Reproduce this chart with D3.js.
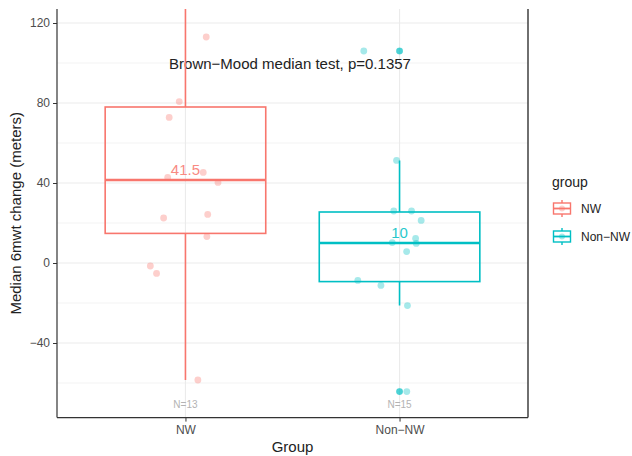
<!DOCTYPE html>
<html>
<head>
<meta charset="utf-8">
<script src="https://cdn.jsdelivr.net/npm/d3@7"></script>
<style>
  body { margin: 0; background: #fff; }
  text { font-family: "Liberation Sans", Arial, sans-serif; }
</style>
</head>
<body>
<div id="chart"></div>
<script>

// groups and box statistics
var groups = ["NW", "Non-NW"];
var groupLabels = ["NW", "Non\u2212NW"];
var colors = ["#F8766D", "#00BFC4"];
var q1 = [14.8, -9.3];
var medians = [41.5, 10];
var q3 = [78, 25.5];
var whiskerLo = [-58.5, -21.3];
var whiskerHi = [140, 51.3];
var counts = [13, 15];

// jittered points: value and horizontal jitter (in category units)
var nwValues = [140, 113, 80.7, 72.8, 45.3, 42.8, 40.3, 24.3, 22.5, 13.2, -1.5, -5.2, -58.5];
var nwJitter = [0.02, 0.097, -0.029, -0.076, 0.083, -0.083, 0.152, 0.104, -0.102, 0.1, -0.164, -0.135, 0.058];
var nonValues = [106, 106, 51.3, 26, 26, 21.3, 12.3, 10.2, 9.8, 5.7, -8.7, -11.2, -21.3, -64.3, -64.3];
var nonJitter = [-0.167, 0, -0.014, -0.027, 0.056, 0.101, 0.075, -0.034, 0.078, 0.033, -0.195, -0.087, 0.037, 0, 0.034];

// boxplot outliers (Non-NW only)
var outlierGroup = ["Non-NW", "Non-NW"];
var outlierValues = [106, -64.3];

var yTicks = [-40, 0, 40, 80, 120];
var yMinor = [-60, -20, 20, 60, 100];
var testLabel = "Brown\u2212Mood median test, p=0.1357";

var width = 632, height = 456;
var panel = { left: 57, right: 528, top: 9, bottom: 417.6 };

var svg = d3.select("#chart").append("svg")
  .attr("width", width)
  .attr("height", height);

var x = d3.scalePoint()
  .domain(groups)
  .range([panel.left, panel.right])
  .padding(0.6);

var step = x.step();

var y = d3.scaleLinear()
  .domain([-77.3, 127])
  .range([panel.bottom, panel.top]);

svg.append("defs").append("clipPath")
  .attr("id", "clip")
  .append("rect")
  .attr("x", panel.left)
  .attr("y", panel.top)
  .attr("width", panel.right - panel.left)
  .attr("height", panel.bottom - panel.top);

var plot = svg.append("g").attr("clip-path", "url(#clip)");

// grid
plot.selectAll(".minor")
  .data(yMinor).enter()
  .append("line")
  .attr("x1", panel.left).attr("x2", panel.right)
  .attr("y1", function (d) { return y(d); })
  .attr("y2", function (d) { return y(d); })
  .attr("stroke", "#ebebeb")
  .attr("stroke-width", 0.6);

plot.selectAll(".major")
  .data(yTicks).enter()
  .append("line")
  .attr("x1", panel.left).attr("x2", panel.right)
  .attr("y1", function (d) { return y(d); })
  .attr("y2", function (d) { return y(d); })
  .attr("stroke", "#ebebeb")
  .attr("stroke-width", 1.1);

plot.selectAll(".vgrid")
  .data(groups).enter()
  .append("line")
  .attr("x1", function (d) { return x(d); })
  .attr("x2", function (d) { return x(d); })
  .attr("y1", panel.top).attr("y2", panel.bottom)
  .attr("stroke", "#ebebeb")
  .attr("stroke-width", 1.1);

// annotation (under the boxes)
plot.append("text")
  .attr("x", 290)
  .attr("y", 68.5)
  .attr("text-anchor", "middle")
  .attr("font-size", 15)
  .attr("fill", "#222")
  .text(testLabel);

// boxes
var boxW = 0.75 * step;
var boxes = plot.selectAll(".box")
  .data(groups).enter()
  .append("g");

boxes.append("line")
  .attr("x1", function (d) { return x(d); })
  .attr("x2", function (d) { return x(d); })
  .attr("y1", function (d, i) { return y(q3[i]); })
  .attr("y2", function (d, i) { return y(whiskerHi[i]); })
  .attr("stroke", function (d, i) { return colors[i]; })
  .attr("stroke-width", 1.6);

boxes.append("line")
  .attr("x1", function (d) { return x(d); })
  .attr("x2", function (d) { return x(d); })
  .attr("y1", function (d, i) { return y(q1[i]); })
  .attr("y2", function (d, i) { return y(whiskerLo[i]); })
  .attr("stroke", function (d, i) { return colors[i]; })
  .attr("stroke-width", 1.6);

boxes.append("rect")
  .attr("x", function (d) { return x(d) - boxW / 2; })
  .attr("width", boxW)
  .attr("y", function (d, i) { return y(q3[i]); })
  .attr("height", function (d, i) { return y(q1[i]) - y(q3[i]); })
  .attr("fill", "none")
  .attr("stroke", function (d, i) { return colors[i]; })
  .attr("stroke-width", 1.6);

boxes.append("line")
  .attr("x1", function (d) { return x(d) - boxW / 2; })
  .attr("x2", function (d) { return x(d) + boxW / 2; })
  .attr("y1", function (d, i) { return y(medians[i]); })
  .attr("y2", function (d, i) { return y(medians[i]); })
  .attr("stroke", function (d, i) { return colors[i]; })
  .attr("stroke-width", 2.6);

// outliers
plot.selectAll(".outlier")
  .data(outlierValues).enter()
  .append("circle")
  .attr("cx", function (d, i) { return x(outlierGroup[i]); })
  .attr("cy", function (d) { return y(d); })
  .attr("r", 3.3)
  .attr("fill", colors[1])
  .attr("opacity", 0.55);

// jittered points
function drawPoints(g, values, jitter, color) {
  plot.selectAll(".pt-" + g)
    .data(values).enter()
    .append("circle")
    .attr("cx", function (d, i) { return x(g) + jitter[i] * step; })
    .attr("cy", function (d) { return y(d); })
    .attr("r", 3.4)
    .attr("fill", color)
    .attr("opacity", 0.35);
}
drawPoints("NW", nwValues, nwJitter, colors[0]);
drawPoints("Non-NW", nonValues, nonJitter, colors[1]);

// median labels
plot.selectAll(".medlab")
  .data(groups).enter()
  .append("text")
  .attr("x", function (d) { return x(d); })
  .attr("y", function (d, i) { return y(medians[i]) - 5; })
  .attr("text-anchor", "middle")
  .attr("font-size", 15)
  .attr("fill", function (d, i) { return colors[i]; })
  .attr("opacity", 0.85)
  .text(function (d, i) { return medians[i]; });

// N labels
plot.selectAll(".nlab")
  .data(groups).enter()
  .append("text")
  .attr("x", function (d) { return x(d); })
  .attr("y", 407.5)
  .attr("text-anchor", "middle")
  .attr("font-size", 10)
  .attr("fill", "#b3b3b3")
  .text(function (d, i) { return "N=" + counts[i]; });

// axes
var yAxis = d3.axisLeft(y).tickValues(yTicks).tickSize(4).tickPadding(3);
var gy = svg.append("g")
  .attr("transform", "translate(" + panel.left + ",0)")
  .call(yAxis);
gy.select(".domain").remove();
gy.selectAll(".tick line").attr("stroke", "#333");
gy.selectAll(".tick text")
  .attr("fill", "#4d4d4d")
  .attr("font-size", 12)
  .style("font-family", "Liberation Sans, Arial, sans-serif")
  .text(function (d) { return d < 0 ? "\u2212" + Math.abs(d) : d; });

var xAxis = d3.axisBottom(x).tickSize(4).tickPadding(4)
  .tickFormat(function (d, i) { return groupLabels[i]; });
var gx = svg.append("g")
  .attr("transform", "translate(0," + panel.bottom + ")")
  .call(xAxis);
gx.select(".domain").remove();
gx.selectAll(".tick line").attr("stroke", "#333");
gx.selectAll(".tick text")
  .attr("fill", "#4d4d4d")
  .attr("font-size", 12)
  .style("font-family", "Liberation Sans, Arial, sans-serif");

// axis lines and right border
svg.append("line")
  .attr("x1", panel.left).attr("x2", panel.left)
  .attr("y1", panel.top).attr("y2", panel.bottom)
  .attr("stroke", "#333").attr("stroke-width", 1.2);
svg.append("line")
  .attr("x1", panel.left).attr("x2", panel.right)
  .attr("y1", panel.bottom).attr("y2", panel.bottom)
  .attr("stroke", "#333").attr("stroke-width", 1.4);
svg.append("line")
  .attr("x1", panel.right).attr("x2", panel.right)
  .attr("y1", panel.top).attr("y2", panel.bottom)
  .attr("stroke", "#333").attr("stroke-width", 1.4);

// axis titles
svg.append("text")
  .attr("transform", "translate(21," + ((panel.top + panel.bottom) / 2) + ") rotate(-90)")
  .attr("text-anchor", "middle")
  .attr("font-size", 15)
  .attr("fill", "#222")
  .text("Median 6mwt change (meters)");

svg.append("text")
  .attr("x", (panel.left + panel.right) / 2)
  .attr("y", 452)
  .attr("text-anchor", "middle")
  .attr("font-size", 15)
  .attr("fill", "#222")
  .text("Group");

// legend
var legend = svg.append("g").attr("transform", "translate(552,0)");
legend.append("text")
  .attr("x", 0).attr("y", 187)
  .attr("font-size", 14)
  .attr("fill", "#222")
  .text("group");

var keys = legend.selectAll(".key")
  .data(groups).enter()
  .append("g")
  .attr("transform", function (d, i) { return "translate(0," + (200 + i * 28) + ")"; });

keys.append("line")
  .attr("x1", 10).attr("x2", 10)
  .attr("y1", 0).attr("y2", 17)
  .attr("stroke", function (d, i) { return colors[i]; })
  .attr("stroke-width", 1.4);
keys.append("rect")
  .attr("x", 1.5).attr("y", 3)
  .attr("width", 17).attr("height", 11)
  .attr("fill", "#fff")
  .attr("stroke", function (d, i) { return colors[i]; })
  .attr("stroke-width", 1.4);
keys.append("circle")
  .attr("cx", 10).attr("cy", 8.5)
  .attr("r", 3)
  .attr("fill", function (d, i) { return colors[i]; })
  .attr("opacity", 0.35);
keys.append("line")
  .attr("x1", 1.5).attr("x2", 18.5)
  .attr("y1", 8.5).attr("y2", 8.5)
  .attr("stroke", function (d, i) { return colors[i]; })
  .attr("stroke-width", 1.8);
keys.append("text")
  .attr("x", 29).attr("y", 13)
  .attr("font-size", 12)
  .attr("fill", "#222")
  .text(function (d, i) { return groupLabels[i]; });

</script>
</body>
</html>
